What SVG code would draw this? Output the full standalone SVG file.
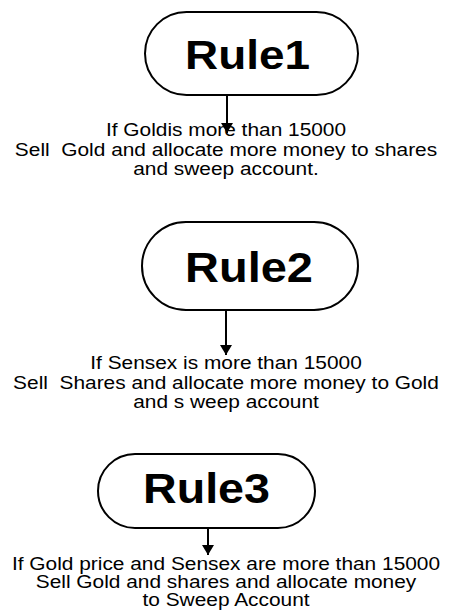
<svg xmlns="http://www.w3.org/2000/svg" width="452" height="610" viewBox="0 0 452 610">
  <style>
    .term { fill: #ffffff; stroke: #000000; stroke-width: 2; }
    .title { font-family: "Liberation Sans", Arial, sans-serif; font-weight: bold; fill: #000000; text-anchor: middle; }
    .note { font-family: "Liberation Sans", Arial, sans-serif; font-size: 17.7px; fill: #000000; text-anchor: middle; }
    .wire { stroke: #000000; stroke-width: 2; fill: none; marker-end: url(#head); }
  </style>
  <defs>
    <marker id="head" viewBox="0 0 10 12" refX="10" refY="6" markerWidth="10" markerHeight="12" markerUnits="userSpaceOnUse" orient="auto">
      <path d="M0,0 L10,6 L0,12 Z" fill="#000000"/>
    </marker>
  </defs>
  <rect width="452" height="610" fill="#ffffff"/>

  <!-- terminators -->
  <g id="rule1">
    <rect class="term" x="145" y="12" width="213" height="83" rx="41.5" ry="41.5"/>
    <text class="title" x="247.5" y="69" font-size="40" textLength="125" lengthAdjust="spacingAndGlyphs">Rule1</text>
  </g>
  <g id="rule2">
    <rect class="term" x="142" y="222" width="216" height="88" rx="44" ry="44"/>
    <text class="title" x="249" y="282" font-size="43" textLength="128" lengthAdjust="spacingAndGlyphs">Rule2</text>
  </g>
  <g id="rule3">
    <rect class="term" x="98" y="454" width="217" height="74" rx="37" ry="37"/>
    <text class="title" x="206.5" y="503" font-size="42" textLength="127" lengthAdjust="spacingAndGlyphs">Rule3</text>
  </g>

  <!-- connectors -->
  <g id="connectors">
    <path class="wire" d="M227,95 V133"/>
    <path class="wire" d="M226,310 V355"/>
    <path class="wire" d="M208,528 V555"/>
  </g>

  <!-- action notes, set slightly wide (x scaled about the centre line x=226) -->
  <g transform="translate(226,0) scale(1.18,1)">
    <g id="note1">
      <text class="note" x="0" y="136">If Goldis more than 15000</text>
      <text class="note" x="0" y="156" xml:space="preserve">Sell  Gold and allocate more money to shares</text>
      <text class="note" x="0" y="175">and sweep account.</text>
    </g>
    <g id="note2">
      <text class="note" x="0" y="369">If Sensex is more than 15000</text>
      <text class="note" x="0" y="389" xml:space="preserve">Sell  Shares and allocate more money to Gold</text>
      <text class="note" x="0" y="408">and s weep account</text>
    </g>
    <g id="note3">
      <text class="note" x="0" y="570">If Gold price and Sensex are more than 15000</text>
      <text class="note" x="0" y="588">Sell Gold and shares and allocate money</text>
      <text class="note" x="0" y="606">to Sweep Account</text>
    </g>
  </g>
</svg>
